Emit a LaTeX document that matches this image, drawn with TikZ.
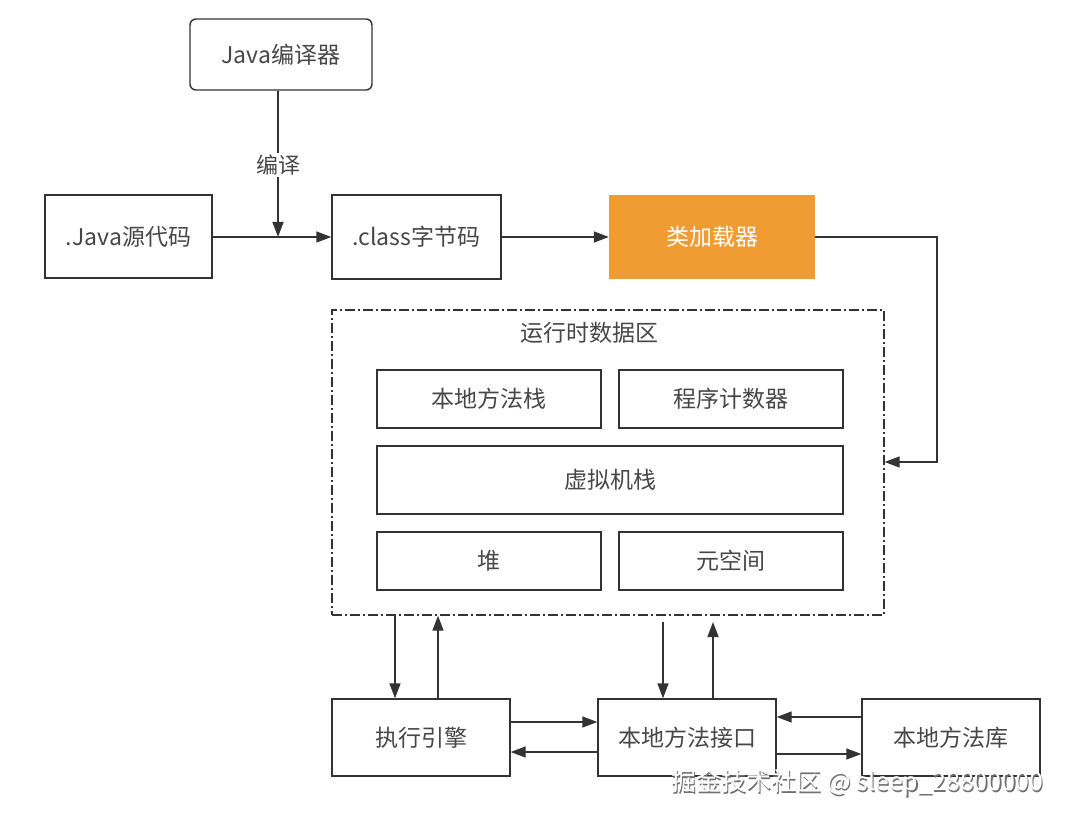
\documentclass[tikz,border=0pt]{standalone}
\usepackage{fontspec}
\setmainfont{Noto Sans CJK SC}
\usetikzlibrary{arrows.meta}
\definecolor{ln}{HTML}{333333}
\definecolor{orng}{HTML}{F09C33}
\tikzset{
  box/.style={draw=ln, line width=1.4pt, rectangle, inner sep=0pt, font=\fontsize{23}{27}\selectfont, text=ln!90},
  rbox/.style={box, rounded corners=6pt},
  arr/.style={draw=ln, line width=1.4pt, -{Triangle[length=15pt,width=11pt]}},
  ddot/.style={draw=ln, line width=1.4pt, dash pattern=on 10pt off 3pt on 2pt off 3pt},
}
\begin{document}
\begin{tikzpicture}[x=1pt,y=-1pt]
\useasboundingbox (0,0) rectangle (1066,821);
\fill[white] (0,0) rectangle (1066,821);
% top boxes
\node[rbox, minimum width=182pt, minimum height=71pt] (comp) at (281,54.5) {Java编译器};
\node[box, minimum width=167pt, minimum height=83pt] (src) at (128.5,236.5) {.Java源代码};
\node[box, minimum width=169pt, minimum height=84pt] (cls) at (416.5,237) {.class字节码};
\node[rectangle, fill=orng, minimum width=206pt, minimum height=84pt, font=\fontsize{23}{27}\selectfont, text=white] (load) at (712,237) {类加载器};
% runtime area
\node[ddot, rectangle, minimum width=552pt, minimum height=305pt] (rt) at (608,462.5) {};
\node[font=\fontsize{23}{27}\selectfont, text=ln!90] (rtl) at (589,333) {运行时数据区};
\node[box, minimum width=224pt, minimum height=58pt] (nms) at (489,399) {本地方法栈};
\node[box, minimum width=224pt, minimum height=58pt] (pc) at (731,399) {程序计数器};
\node[box, minimum width=466pt, minimum height=68pt] (vms) at (610,480) {虚拟机栈};
\node[box, minimum width=224pt, minimum height=58pt] (heap) at (489,561) {堆};
\node[box, minimum width=224pt, minimum height=58pt] (meta) at (731,561) {元空间};
% bottom boxes
\node[box, minimum width=178pt, minimum height=77pt] (exe) at (421,737.5) {执行引擎};
\node[box, minimum width=178pt, minimum height=77pt] (jni) at (687,737.5) {本地方法接口};
\node[box, minimum width=178pt, minimum height=77pt] (lib) at (951,737.5) {本地方法库};
% connectors
\coordinate (j) at (278,237);
\draw[arr] (comp.south -| j) -- (j);
\node[fill=white, inner sep=2pt, font=\fontsize{22}{26}\selectfont, text=ln!90] (lbl) at (278,165) {编译};
\draw[arr] (src.east |- j) -- (cls.west |- j);
\draw[arr] (cls.east) -- (load.west);
\coordinate (c1) at (937,237);
\coordinate (c2) at (937,462);
\draw[arr] (load.east) -- (c1) -- (c2) -- (rt.east |- c2);
% runtime <-> exe
\draw[arr] (395,615) coordinate (a1) -- (a1 |- exe.north);
\draw[arr] (438,699) coordinate (a2) -- (a2 |- rt.south);
% runtime <-> jni
\draw[arr] (663,622) coordinate (b1) -- (b1 |- jni.north);
\draw[arr] (713,699) coordinate (b2) -- (713,622);
% exe <-> jni
\draw[arr] (510,722) coordinate (e1) -- (e1 -| jni.west);
\draw[arr] (598,752) coordinate (e2) -- (e2 -| exe.east);
% lib <-> jni
\draw[arr] (862,717) coordinate (f1) -- (f1 -| jni.east);
\draw[arr] (776,754) coordinate (f2) -- (f2 -| lib.west);
% watermark
\node[font=\fontsize{25}{29}\selectfont, text=ln!70, anchor=west] (wm0) at (669.3,784.3) {掘金技术社区 @ sleep\_28800000};
\node[font=\fontsize{25}{29}\selectfont, text=white, anchor=west] (wm) at (668,783) {掘金技术社区 @ sleep\_28800000};
\end{tikzpicture}
\end{document}
